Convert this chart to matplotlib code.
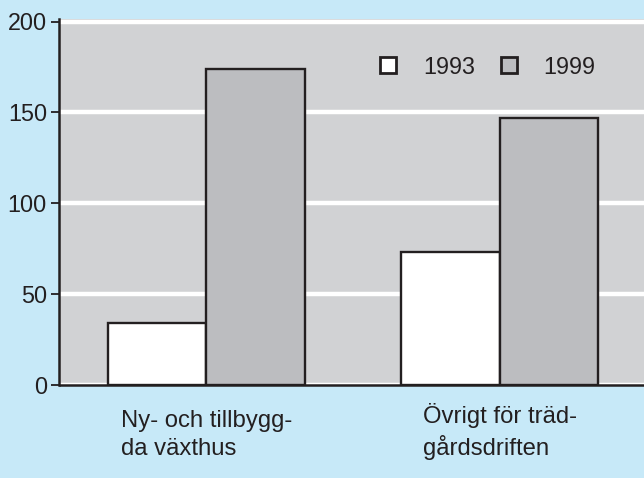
import matplotlib
matplotlib.use("Agg")
import matplotlib.pyplot as plt
import numpy as np

categories = ["Ny- och tillbygg-\nda växthus", "Övrigt för träd-\ngårdsdriften"]
series_names = ["1993", "1999"]
v1993 = [34, 73]
v1999 = [174, 147]
yticks = [0, 50, 100, 150, 200]

plt.rcParams['font.family'] = ['Liberation Sans', 'DejaVu Sans']

BLUE = "#c7e9f8"
AXBG = "#d1d2d4"
GREY = "#bcbdc0"
EDGE = "#231f20"

fig = plt.figure(figsize=(6.44, 4.78), dpi=100, facecolor=BLUE)
ax = fig.add_axes([59.5/644, 1-385/478, 1-59.5/644, (385-19)/478])
ax.set_facecolor(AXBG)

x = np.arange(len(categories))
w = 0.3356
ax.bar(x - w/2, v1993, w, color="white", edgecolor=EDGE, linewidth=1.7, label=series_names[0], zorder=3)
ax.bar(x + w/2, v1999, w, color=GREY, edgecolor=EDGE, linewidth=1.7, label=series_names[1], zorder=3)

ax.set_xlim(-0.5, 1.4906)
ax.set_ylim(0, 200*(385-19)/(385-21.5))
ax.set_yticks(yticks)
ax.set_yticklabels([str(t) for t in yticks], fontsize=16.8, color=EDGE)
ax.yaxis.grid(True, color="white", linewidth=3.2)
ax.set_axisbelow(True)

ax.set_xticks(x)
ax.set_xticklabels(categories, fontsize=17.2, color=EDGE, ma='left',
                   linespacing=1.33, va='baseline')
ax.tick_params(axis='x', length=0, pad=50.3)
ax.tick_params(axis='y', length=6, width=1.3, color=EDGE, pad=3)

for s in ["top", "right"]:
    ax.spines[s].set_visible(False)
for s in ["left", "bottom"]:
    ax.spines[s].set_linewidth(1.8)
    ax.spines[s].set_color(EDGE)
    ax.spines[s].set_zorder(4)

leg = ax.legend(loc="center left", bbox_to_anchor=(380/644, 1-67/478),
                bbox_transform=fig.transFigure, ncol=2, frameon=False,
                fontsize=16.8, handlelength=0.69, handleheight=0.69,
                handletextpad=1.15, columnspacing=1.11, borderpad=0,
                borderaxespad=0)
for t in leg.get_texts():
    t.set_color(EDGE)
for h in leg.legend_handles:
    h.set_linewidth(2.0)

fig.savefig("out.png", dpi=100, facecolor=BLUE)
